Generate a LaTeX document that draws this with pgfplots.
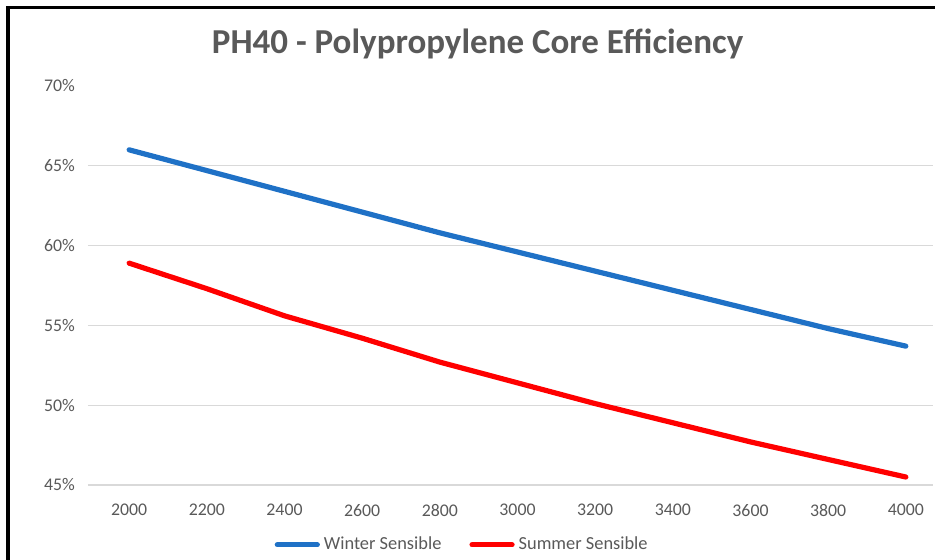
\documentclass[border=0pt]{standalone}
\usepackage{pgfplots}
\pgfplotsset{compat=1.18}
\usepackage{fontspec}
\setmainfont{Carlito}
\definecolor{txtgray}{HTML}{595959}
\definecolor{gridgray}{HTML}{D9D9D9}
\definecolor{wblue}{RGB}{31,113,198}
\definecolor{sred}{RGB}{255,0,0}
\begin{document}
\begin{tikzpicture}
\useasboundingbox (0,0) rectangle (467.5pt,280pt);
\draw[line width=1.6pt,black] (4pt,0) -- (4pt,276.3pt) -- (470pt,276.3pt);
\node[font=\fontsize{17.5}{20}\selectfont\bfseries,text=txtgray] at (238.8pt,258pt) {PH40 - Polypropylene Core Efficiency};
\begin{axis}[
  at={(44pt,37.5pt)}, anchor=south west,
  scale only axis, width=422.5pt, height=199.5pt,
  xmin=1894, xmax=4070, ymin=45, ymax=70,
  axis line style={draw=none},
  xtick={2000,2200,...,4000},
  ytick={45,50,...,70},
  extra y ticks={45,50,55,60,65},
  extra y tick labels={},
  extra y tick style={grid=major, major grid style={gridgray,line width=0.6pt}},
  major tick style={draw=none},
  /pgf/number format/assume math mode=true,
  /pgf/number format/1000 sep={},
  xticklabel style={font=\fontsize{8.9}{10}\selectfont,text=txtgray,yshift=-6pt},
  yticklabel style={font=\fontsize{8.9}{10}\selectfont,text=txtgray,xshift=-3pt},
  yticklabel={\pgfmathprintnumber{\tick}\%},
  legend columns=2,
  legend style={draw=none,fill=none,at={(0.444,-0.15)},anchor=center,
    font=\fontsize{9.2}{10}\selectfont,text=txtgray,
    /tikz/every even column/.append style={column sep=12pt},
    inner sep=0pt},
  legend image code/.code={\draw[#1,line cap=round] (0pt,0pt) -- (20pt,0pt);},
  clip=false,
]
\addplot[wblue,line width=2.6pt,line cap=round,line join=round] coordinates {
(2000,66.0) (2200,64.7) (2400,63.4) (2600,62.1) (2800,60.8) (3000,59.6)
(3200,58.4) (3400,57.2) (3600,56.0) (3800,54.8) (4000,53.7)};
\addlegendentry{Winter Sensible}
\addplot[sred,line width=2.6pt,line cap=round,line join=round] coordinates {
(2000,58.9) (2200,57.3) (2400,55.6) (2600,54.2) (2800,52.7) (3000,51.4)
(3200,50.1) (3400,48.9) (3600,47.7) (3800,46.6) (4000,45.5)};
\addlegendentry{Summer Sensible}
\end{axis}
\end{tikzpicture}
\end{document}
